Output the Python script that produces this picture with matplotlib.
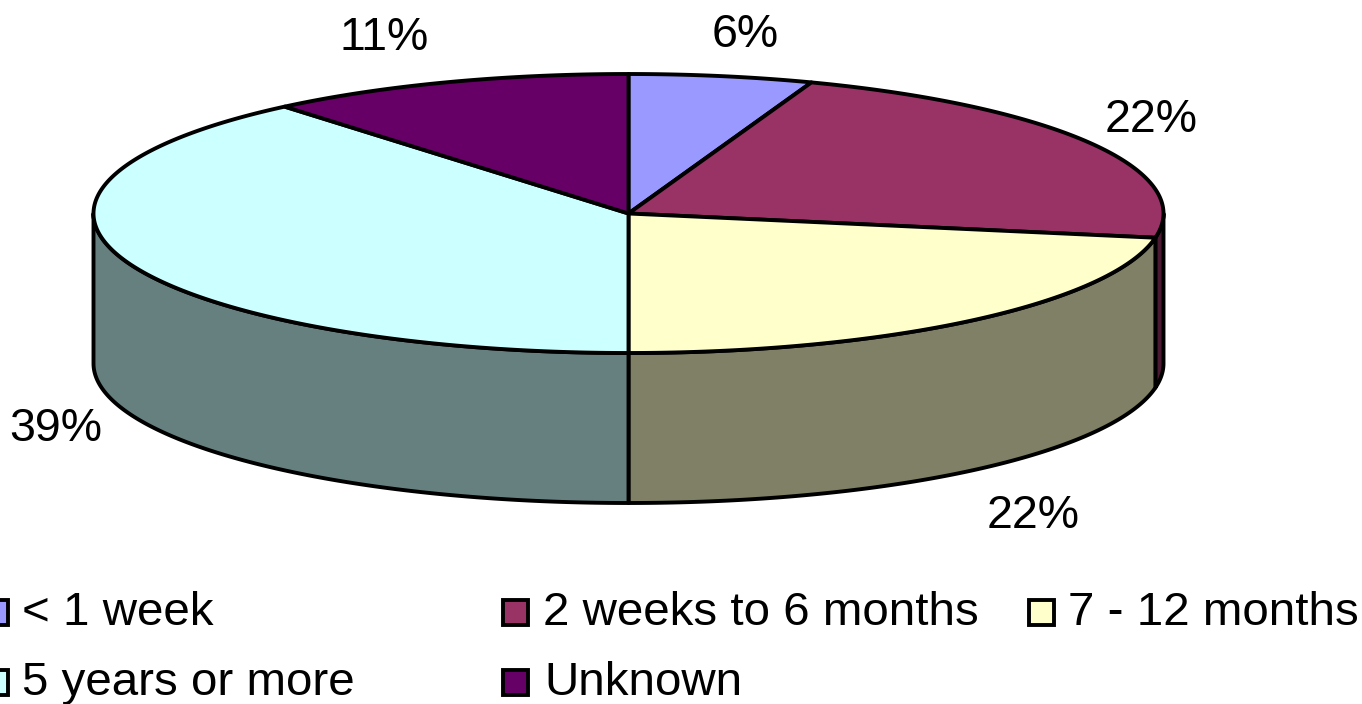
import numpy as np
import matplotlib
matplotlib.use("Agg")
import matplotlib.pyplot as plt
from matplotlib.patches import Polygon, Rectangle

categories = ["< 1 week", "2 weeks to 6 months", "7 - 12 months", "5 years or more", "Unknown"]
counts = [1, 4, 4, 7, 2]            # shares consistent with the printed percentages
percent_labels = [6, 22, 22, 39, 11]
colors = ["#9999FF", "#993366", "#FFFFCC", "#CCFFFF", "#660066"]
side_colors = ["#4D4D80", "#4D1A33", "#808066", "#668080", "#330033"]
label_xy = [(745, 35), (1151, 120), (1033, 516), (56, 429), (384, 38)]
legend_xy = [(-5, 612), (515.5, 612), (1041, 612), (-5, 682), (515.5, 682)]
legend_text_x = [22, 543, 1068, 22, 544]

W, H = 1362, 704
CX, CY, RX, RY, DEPTH = 628.5, 213.5, 535, 139.5, 150
LW = 2.8

plt.rcParams["font.family"] = ["Liberation Sans", "DejaVu Sans"]
fig = plt.figure(figsize=(W / 100, H / 100), dpi=100)
ax = fig.add_axes([0, 0, 1, 1])
ax.set_xlim(0, W)
ax.set_ylim(H, 0)
ax.axis("off")


def rim(a0, a1, dy=0.0):
    """Points on the ellipse; angles in degrees clockwise from the top."""
    n = max(2, int(abs(a1 - a0) * 2))
    t = np.radians(np.linspace(a0, a1, n))
    return np.column_stack([CX + RX * np.sin(t), CY - RY * np.cos(t) + dy])


edges = np.concatenate([[0], np.cumsum(counts)]) * 360 / sum(counts)
common = dict(edgecolor="black", linewidth=LW, joinstyle="round")

# Side walls: only the part of the rim facing the viewer (90..270 deg)
for i in [1, 2, 3]:
    a0, a1 = max(edges[i], 90), min(edges[i + 1], 270)
    if a1 > a0:
        top = rim(a0, a1)
        bot = rim(a0, a1, DEPTH)[::-1]
        ax.add_patch(Polygon(np.vstack([top, bot]), closed=True,
                             facecolor=side_colors[i], zorder=2, **common))

# Top faces
for i in range(len(counts)):
    pts = np.vstack([[CX, CY], rim(edges[i], edges[i + 1])])
    ax.add_patch(Polygon(pts, closed=True, facecolor=colors[i], zorder=3, **common))

# Percentage labels
for v, (x, y) in zip(percent_labels, label_xy):
    ax.text(x, y, f"{v}%", ha="center", va="center", fontsize=33.5, color="black", zorder=5)

# Legend
SW = 25
for name, col, (x, y), tx in zip(categories, colors, legend_xy, legend_text_x):
    ax.add_patch(Rectangle((x - SW / 2, y - SW / 2), SW, SW, facecolor=col,
                           edgecolor="black", linewidth=LW, zorder=4))
    ax.text(tx, y + 1, name, ha="left", va="center", fontsize=34.2, color="black", zorder=5)

fig.savefig("out.png", dpi=100, facecolor="white")
